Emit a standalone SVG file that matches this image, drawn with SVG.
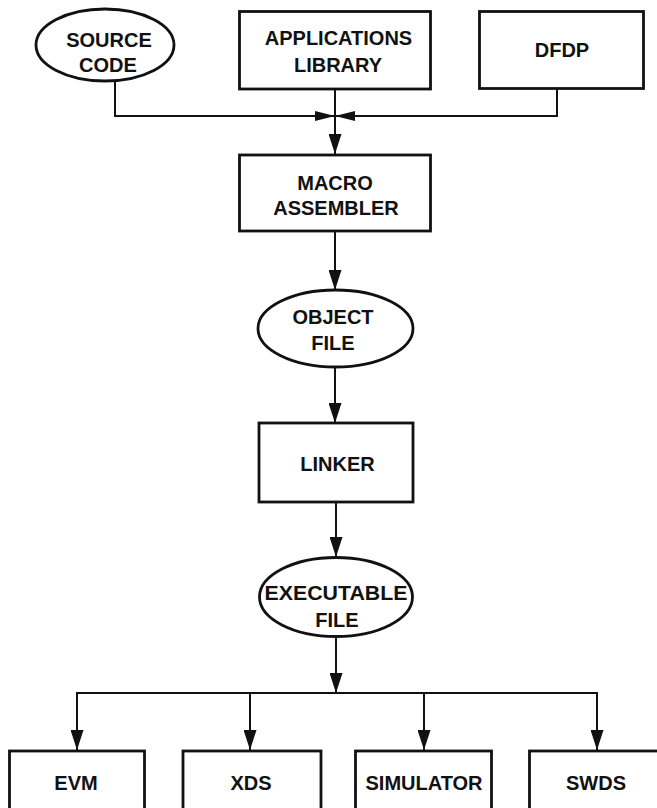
<svg xmlns="http://www.w3.org/2000/svg" width="657" height="808" viewBox="0 0 657 808">
<defs>
<style>
.n{fill:#fff;stroke:#111;stroke-width:2.8}
.t{font-family:"Liberation Sans",Arial,Helvetica,sans-serif;font-weight:bold;font-size:20px;fill:#111;text-anchor:middle}
.c{fill:none;stroke:#111;stroke-width:2}
.h{fill:#111;stroke:none}
</style>
<marker id="ah" viewBox="0 0 20 13" refX="20" refY="6.5" markerWidth="20" markerHeight="13" markerUnits="userSpaceOnUse" orient="auto">
<path d="M0,0 L20,6.5 L0,13 Z" fill="#111"/>
</marker>
<marker id="bh" viewBox="0 0 20 10" refX="20" refY="5" markerWidth="20" markerHeight="10" markerUnits="userSpaceOnUse" orient="auto">
<path d="M0,0 L20,5 L0,10 Z" fill="#111"/>
</marker>
</defs>
<rect width="657" height="808" fill="#fff"/>
<g id="connectors">
<path class="c" d="M115,80 V116 H335" marker-end="url(#bh)"/>
<path class="c" d="M557,88 V116 H335" marker-end="url(#bh)"/>
<path class="c" d="M335,89 V154" marker-end="url(#ah)"/>
<path class="c" d="M335,231 V290" marker-end="url(#ah)"/>
<path class="c" d="M335,367 V423" marker-end="url(#ah)"/>
<path class="c" d="M336,502 V557" marker-end="url(#ah)"/>
<path class="c" d="M336,637 V693" marker-end="url(#ah)"/>
<path class="c" d="M77,750 V693 H597 V750" marker-end="url(#ah)"/>
<path class="c" d="M77,693 V750" marker-end="url(#ah)"/>
<path class="c" d="M250,693 V750" marker-end="url(#ah)"/>
<path class="c" d="M424,693 V750" marker-end="url(#ah)"/>
</g>
<g id="source-code">
<ellipse class="n" cx="105" cy="45" rx="69" ry="36"/>
<text class="t" x="109" y="46.5">SOURCE</text>
<text class="t" x="108" y="71.5">CODE</text>
</g>
<g id="applications-library">
<rect class="n" x="239.5" y="11.5" width="191" height="77.5"/>
<text class="t" x="338.5" y="45">APPLICATIONS</text>
<text class="t" x="338" y="71.5">LIBRARY</text>
</g>
<g id="dfdp">
<rect class="n" x="479.5" y="11.5" width="164" height="77"/>
<text class="t" x="562" y="57">DFDP</text>
</g>
<g id="macro-assembler">
<rect class="n" x="239.5" y="155" width="191" height="76"/>
<text class="t" x="335" y="190">MACRO</text>
<text class="t" x="336" y="215">ASSEMBLER</text>
</g>
<g id="object-file">
<ellipse class="n" cx="335.5" cy="328.5" rx="77.5" ry="38.5"/>
<text class="t" x="333" y="324">OBJECT</text>
<text class="t" x="333" y="350">FILE</text>
</g>
<g id="linker">
<rect class="n" x="259" y="423" width="154" height="79"/>
<text class="t" x="337.5" y="470.5">LINKER</text>
</g>
<g id="executable-file">
<ellipse class="n" cx="336" cy="597" rx="76.5" ry="39.5"/>
<text class="t" x="336" y="600" textLength="143" lengthAdjust="spacingAndGlyphs">EXECUTABLE</text>
<text class="t" x="337" y="626.5">FILE</text>
</g>
<g id="evm">
<rect class="n" x="9.5" y="751" width="135" height="70"/>
<text class="t" x="76" y="789.5">EVM</text>
</g>
<g id="xds">
<rect class="n" x="183" y="751" width="138" height="70"/>
<text class="t" x="251" y="789.5">XDS</text>
</g>
<g id="simulator">
<rect class="n" x="355.5" y="751" width="136" height="70"/>
<text class="t" x="424" y="790">SIMULATOR</text>
</g>
<g id="swds">
<rect class="n" x="529.5" y="751" width="140" height="70"/>
<text class="t" x="596" y="790">SWDS</text>
</g>
</svg>
